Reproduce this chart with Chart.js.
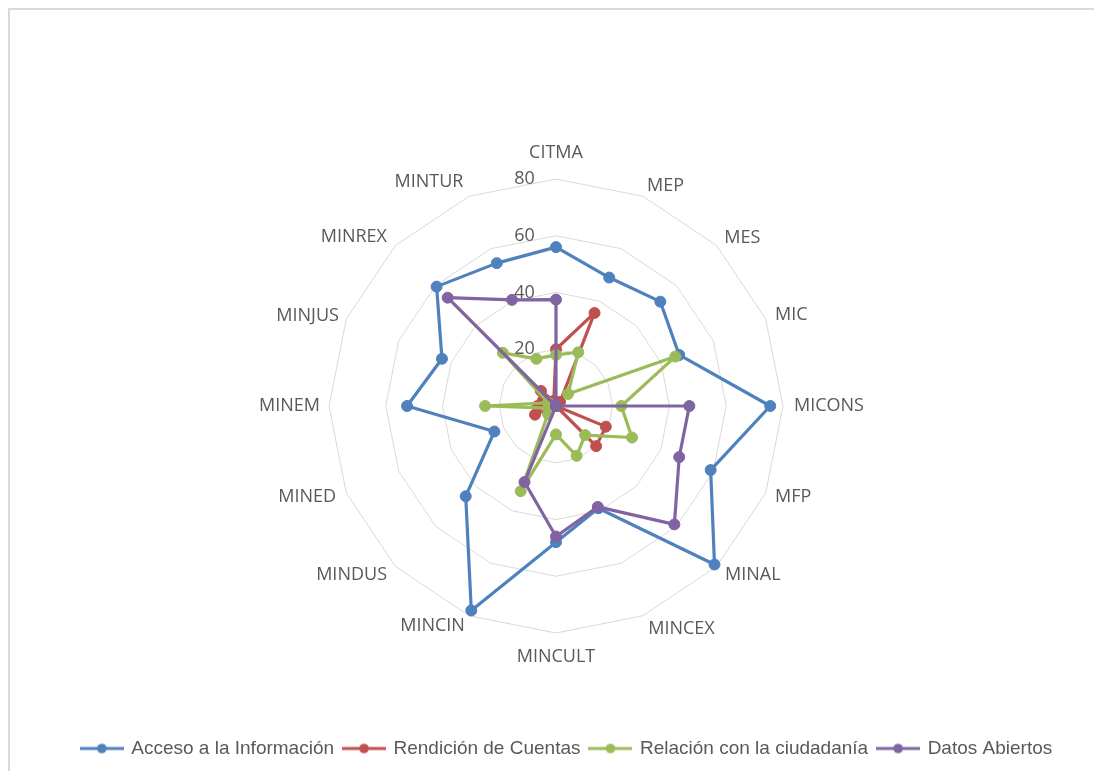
<!DOCTYPE html>
<html><head><meta charset="utf-8">
<script src="https://cdn.jsdelivr.net/npm/chart.js@4/dist/chart.umd.min.js"></script>
<style>
html,body{margin:0;padding:0;background:#fff;overflow:hidden}
#wrap{position:relative;width:1094px;height:771px;overflow:hidden}
#frame{position:absolute;left:8px;top:8px;right:-10px;bottom:-10px;border-left:2px solid #dadada;border-top:2px solid #dadada;pointer-events:none}
canvas{position:absolute;left:0;top:0}
</style></head><body>
<div id="wrap"><canvas id="c" width="1094" height="771"></canvas><div id="frame"></div></div>
<script>
// ---- data ----
const categories = ['CITMA','MEP','MES','MIC','MICONS','MFP','MINAL','MINCEX','MINCULT','MINCIN','MINDUS','MINED','MINEM','MINJUS','MINREX','MINTUR'];
const seriesNames = ['Acceso a la Información','Rendición de Cuentas','Relación con la ciudadanía','Datos Abiertos'];
const acceso     = [56, 49, 52, 47, 75.5, 59, 79, 39, 48, 78, 45, 23.5, 52.5, 43.5, 59.5, 54.5];
const rendicion  = [20, 35.5, 2, 0, 0, 19, 20, 0, 0, 0, 0, 8, 6.5, 5, 7.5, 2];
const relacion   = [18, 20.5, 6, 45.5, 23, 29, 14.5, 19, 10, 32.5, 4, 2, 25, 3, 26.5, 18];
const datos      = [37.5, 0, 0, 0, 47, 47, 59, 38.5, 46, 29, 0, 0, 0, 0, 54, 40.5];
const tickValues = [0, 20, 40, 60, 80];

// ---- style / layout ----
const colors = ['#4F81BD', '#C0504D', '#9BBB59', '#8064A2'];
const PLOT = {cx: 556, cy: 406, r: 227};
const TICK_FONT = 18;
// distance of each category label from the centre (px)
const labelDist = [253, 238, 238, 237, 238, 237, 239, 241, 251, 238, 239, 238, 236, 235, 239, 242];

// Fix the radial scale geometry to the reference layout
const RadialScale = Chart.registry.getScale('radialLinear');
const baseSetCenter = RadialScale.prototype.setCenterPoint;
RadialScale.prototype.setCenterPoint = function (...args) {
  baseSetCenter.apply(this, args);
  this.xCenter = PLOT.cx; this.yCenter = PLOT.cy; this.drawingArea = PLOT.r;
};

function legendSwatch(color) {
  const c = document.createElement('canvas'); c.width = 44; c.height = 12;
  const g = c.getContext('2d');
  g.strokeStyle = color; g.lineWidth = 3;
  g.beginPath(); g.moveTo(0, 6); g.lineTo(44, 6); g.stroke();
  g.fillStyle = color; g.beginPath(); g.arc(22, 6, 4.8, 0, Math.PI * 2); g.fill();
  return c;
}
const swatches = colors.map(legendSwatch);

const seriesData = [acceso, rendicion, relacion, datos];
const datasets = seriesData.map((d, i) => ({
  label: seriesNames[i],
  data: d,
  borderColor: colors[i],
  backgroundColor: colors[i],
  pointBackgroundColor: colors[i],
  pointBorderColor: colors[i],
  borderWidth: 3.2,
  pointRadius: 5.5,
  pointBorderWidth: 1,
  fill: false,
  tension: 0,
  borderJoinStyle: 'round',
  order: 4 - i
}));

new Chart(document.getElementById('c'), {
  type: 'radar',
  data: {labels: categories, datasets},
  options: {
    responsive: false,
    animation: false,
    layout: {padding: {left: 40, right: 0, top: 0, bottom: 3}},
    plugins: {
      tooltip: {enabled: false},
      legend: {
        position: 'bottom',
        labels: {
          usePointStyle: true,
          pointStyleWidth: 40,
          padding: 10,
          color: '#595959',
          font: {family: "'Liberation Sans', Arial, sans-serif", size: 19},
          generateLabels(chart) {
            const items = Chart.defaults.plugins.legend.labels.generateLabels(chart);
            items.sort((a, b) => a.datasetIndex - b.datasetIndex);
            items.forEach(it => { it.pointStyle = swatches[it.datasetIndex]; });
            return items;
          }
        }
      }
    },
    scales: {
      r: {
        min: tickValues[0],
        max: tickValues[tickValues.length - 1],
        angleLines: {display: false},
        grid: {color: '#d9d9d9', lineWidth: 1, circular: false},
        ticks: {
          stepSize: 20,
          showLabelBackdrop: false,
          backdropPadding: 0,
          color: '#595959',
          font: {family: "'Open Sans', sans-serif", size: TICK_FONT},
          callback: v => String(v) + (String(v).length === 1 ? '\u2003\u2003\u2003' : '\u2003\u2003\u2003\u2002')
        },
        pointLabels: {
          color: '#595959',
          font: {family: "'Open Sans', sans-serif", size: 18, lineHeight: 0.01},
          padding: ctx => labelDist[ctx.index] - PLOT.r - TICK_FONT / 2
        }
      }
    }
  }
});
</script>
</body></html>
